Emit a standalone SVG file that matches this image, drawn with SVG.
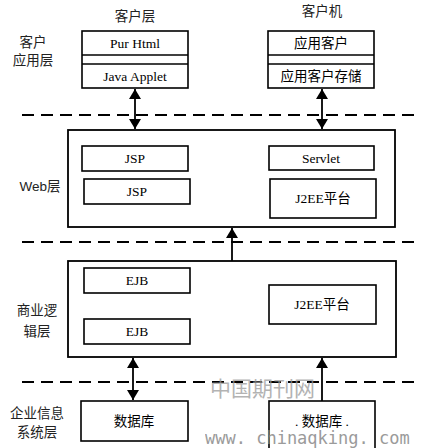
<svg xmlns="http://www.w3.org/2000/svg" width="435" height="448" viewBox="0 0 435 448">
<defs>
<marker id="ah" viewBox="0 0 10 12" refX="10" refY="6" markerWidth="10" markerHeight="12" markerUnits="userSpaceOnUse" orient="auto-start-reverse">
<path d="M0,0 L10,6 L0,12 z" fill="#000"/>
</marker>
<style>
.box{fill:#fff;stroke:#000;stroke-width:1.6}
.outer{fill:#fff;stroke:#000;stroke-width:1.8}
.t{font-family:"Liberation Serif","Noto Sans CJK SC",serif;font-size:13.5px;fill:#000;text-anchor:middle}
.lab{font-family:"Liberation Serif","Noto Sans CJK SC",serif;font-size:13.5px;fill:#222;text-anchor:middle}
.sans{font-family:"Liberation Sans","Noto Sans CJK SC",sans-serif;font-size:13.5px;fill:#222;text-anchor:middle}
.dash{stroke:#000;stroke-width:2.2;stroke-dasharray:12 7;fill:none}
.arr{stroke:#000;stroke-width:1.8;fill:none}
.wm{font-family:"Noto Sans CJK SC",sans-serif;fill:#9a9a9a}
</style>
</defs>
<rect width="435" height="448" fill="#fff"/>

<g id="separators">
<line class="dash" x1="22" y1="115" x2="418" y2="115"/>
<line class="dash" x1="22" y1="242" x2="418" y2="242"/>
<line class="dash" x1="22" y1="382" x2="418" y2="382"/>
</g>

<g id="layer-labels">
<text class="lab" x="135" y="21">客户层</text>
<text class="lab" x="322" y="16">客户机</text>
<text class="lab" x="33" y="47">客户</text>
<text class="lab" x="33" y="65">应用层</text>
<text class="sans" x="40" y="191">Web层</text>
<text class="lab" x="37" y="315">商业逻</text>
<text class="lab" x="37" y="336">辑层</text>
<text class="lab" x="37" y="418">企业信息</text>
<text class="lab" x="37" y="437">系统层</text>
</g>

<g id="client-left">
<rect class="box" x="82" y="31" width="106" height="57"/>
<line class="box" x1="82" y1="55" x2="188" y2="55"/>
<line class="box" x1="82" y1="64" x2="188" y2="64"/>
<text class="t" x="135" y="48">Pur Html</text>
<text class="t" x="135" y="81">Java Applet</text>
</g>

<g id="client-right">
<rect class="box" x="268" y="31" width="106" height="57"/>
<line class="box" x1="268" y1="55" x2="374" y2="55"/>
<line class="box" x1="268" y1="64" x2="374" y2="64"/>
<text class="t" x="321" y="48">应用客户</text>
<text class="t" x="321" y="81">应用客户存储</text>
</g>

<g id="web-layer">
<rect class="outer" x="68" y="130" width="327" height="97"/>
</g>
<g id="jsp1">
<rect class="box" x="82" y="146" width="106" height="25"/>
<text class="t" x="135" y="163">JSP</text>
</g>
<g id="jsp2">
<rect class="box" x="84" y="179" width="106" height="25"/>
<text class="t" x="137" y="196">JSP</text>
</g>
<g id="servlet">
<rect class="box" x="269" y="146" width="105" height="24"/>
<text class="t" x="321" y="163">Servlet</text>
</g>
<g id="j2ee-web">
<rect class="box" x="270" y="179" width="106" height="39"/>
<text class="t" x="323" y="203">J2EE平台</text>
</g>

<g id="business-layer">
<rect class="outer" x="68" y="261" width="328" height="96"/>
</g>
<g id="ejb1">
<rect class="box" x="84" y="268" width="106" height="25"/>
<text class="t" x="137" y="285">EJB</text>
</g>
<g id="ejb2">
<rect class="box" x="84" y="319" width="106" height="25"/>
<text class="t" x="137" y="336">EJB</text>
</g>
<g id="j2ee-biz">
<rect class="box" x="269" y="285" width="107" height="39"/>
<text class="t" x="322" y="309">J2EE平台</text>
</g>

<g id="db-left">
<rect class="box" x="81" y="401" width="107" height="40"/>
<text class="t" x="134" y="426">数据库</text>
</g>
<g id="db-right">
<rect class="box" x="269" y="401" width="106" height="52"/>
<text class="t" x="322" y="426">. 数据库 .</text>
</g>

<g id="connectors">
<line class="arr" x1="135" y1="89" x2="135" y2="129" marker-start="url(#ah)" marker-end="url(#ah)"/>
<line class="arr" x1="322" y1="89" x2="322" y2="129" marker-start="url(#ah)" marker-end="url(#ah)"/>
<line class="arr" x1="232" y1="261" x2="232" y2="228" marker-end="url(#ah)"/>
<line class="arr" x1="133" y1="358" x2="133" y2="400" marker-start="url(#ah)" marker-end="url(#ah)"/>
<line class="arr" x1="322" y1="401" x2="322" y2="358" marker-end="url(#ah)"/>
</g>

<g id="watermark">
<text class="wm" x="210" y="396" font-size="21" opacity="0.75">中国期刊网</text>
<text x="205" y="444" font-family="'DejaVu Sans Mono','Liberation Mono',monospace" font-size="17" fill="#8a8a8a" opacity="0.85">www. chinaqking. com</text>
</g>
</svg>
